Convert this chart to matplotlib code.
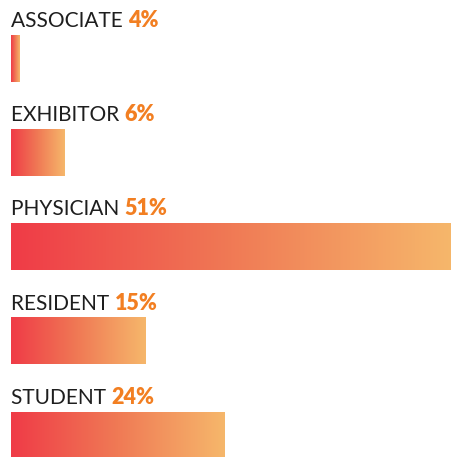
import numpy as np
import matplotlib
matplotlib.use('Agg')
from matplotlib import pyplot as plt
from matplotlib.colors import LinearSegmentedColormap

# data
categories = ['ASSOCIATE', 'EXHIBITOR', 'PHYSICIAN', 'RESIDENT', 'STUDENT']
pct_labels = [4, 6, 51, 15, 24]
# bar lengths as drawn in the picture (same scale as PHYSICIAN = 51)
bar_lengths = [1.0, 6.2, 51, 15.5, 24.7]

grad = LinearSegmentedColormap.from_list('grad', ['#EF3B47', '#F07A55', '#F6B76B'])

fig = plt.figure(figsize=(4.52, 4.57), dpi=100)
ax = fig.add_axes([11 / 452, 0, 441 / 452, 1])
ax.set_xlim(0, 51)
ax.set_ylim(4.23, -0.621)
ax.axis('off')

h = 0.49
g = np.linspace(0, 1, 256).reshape(1, -1)
fig.canvas.draw()
r = fig.canvas.get_renderer()
for i, (cat, p, v) in enumerate(zip(categories, pct_labels, bar_lengths)):
    ax.imshow(g, cmap=grad, aspect='auto', extent=[0, v, i + h / 2, i - h / 2],
              interpolation='bilinear')
    t = ax.text(0, i - h / 2 - 0.09, cat + ' ', fontsize=15, family='Lato',
                color='#1E1E1E', va='baseline', ha='left')
    bb = t.get_window_extent(renderer=r)
    ax.annotate('%d%%' % p, xy=(0, i - h / 2 - 0.09), xycoords='data',
                xytext=(bb.width * 72 / fig.dpi, 0), textcoords='offset points',
                fontsize=15.5, family='Lato', weight='heavy', color='#F27F22',
                va='baseline', ha='left')

ax.set_xlim(0, 51)
ax.set_ylim(4.23, -0.621)
fig.savefig('out.png', dpi=100)
